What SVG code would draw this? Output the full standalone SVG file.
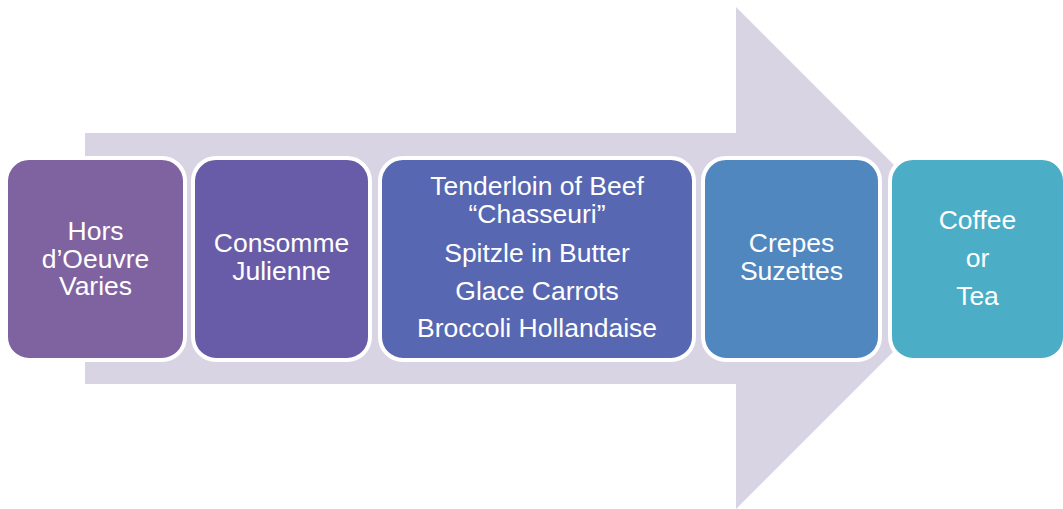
<svg xmlns="http://www.w3.org/2000/svg" width="1063" height="509" viewBox="0 0 1063 509">
  <style>
    .box { stroke: #ffffff; stroke-width: 4; }
    .label { font-family: "Liberation Sans", Arial, sans-serif; font-size: 26.5px; fill: #ffffff; text-anchor: middle; }
  </style>
  <rect width="1063" height="509" fill="#ffffff"/>
  <!-- background process arrow -->
  <g id="connectors">
    <polygon points="85,133 736,133 736,7 987,258 736,509 736,384 85,384" fill="#d8d4e3"/>
  </g>
  <g id="node-hors">
    <rect class="box" x="6" y="158" width="179" height="202" rx="23" fill="#7f63a1"/>
    <text class="label" x="95.5" y="240">Hors</text>
    <text class="label" x="95.5" y="267.5">d’Oeuvre</text>
    <text class="label" x="95.5" y="295">Varies</text>
  </g>
  <g id="node-consomme">
    <rect class="box" x="193" y="158" width="177" height="202" rx="23" fill="#685ca8"/>
    <text class="label" x="281.5" y="252">Consomme</text>
    <text class="label" x="281.5" y="280">Julienne</text>
  </g>
  <g id="node-tenderloin">
    <rect class="box" x="380" y="158" width="314" height="202" rx="23" fill="#5867b1"/>
    <text class="label" x="537" y="195">Tenderloin of Beef</text>
    <text class="label" x="537" y="222.5">“Chasseuri”</text>
    <text class="label" x="537" y="261.5">Spitzle in Butter</text>
    <text class="label" x="537" y="299.5">Glace Carrots</text>
    <text class="label" x="537" y="337">Broccoli Hollandaise</text>
  </g>
  <g id="node-crepes">
    <rect class="box" x="703" y="158" width="177" height="202" rx="23" fill="#5087be"/>
    <text class="label" x="791.5" y="252">Crepes</text>
    <text class="label" x="791.5" y="280">Suzettes</text>
  </g>
  <g id="node-coffee">
    <rect class="box" x="890" y="158" width="175" height="202" rx="23" fill="#4badc6"/>
    <text class="label" x="977.5" y="228.5">Coffee</text>
    <text class="label" x="977.5" y="266.5">or</text>
    <text class="label" x="977.5" y="304.5">Tea</text>
  </g>
</svg>
